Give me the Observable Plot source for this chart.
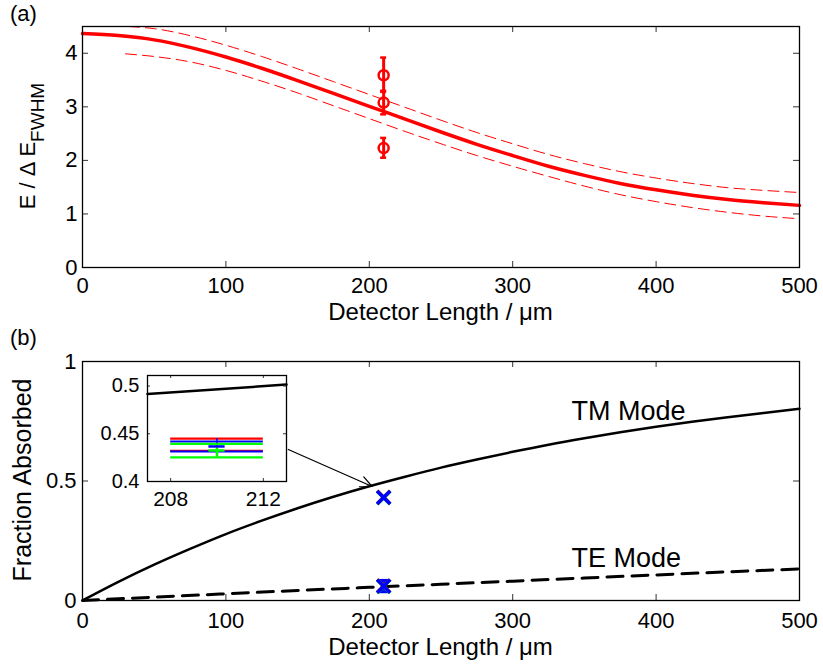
<!DOCTYPE html>
<html><head><meta charset="utf-8">
<script src="https://cdn.jsdelivr.net/npm/d3@7"></script>
<script src="https://cdn.jsdelivr.net/npm/@observablehq/plot@0.6"></script>
<style>
body{margin:0;background:#fff;}
#wrap{position:relative;width:823px;height:669px;}
#wrap svg{position:absolute;overflow:visible;}
</style></head><body><div id="wrap"></div>
<script>
const FONT = '"Liberation Sans", Arial, Helvetica, sans-serif';

// ---------- Panel (a) data ----------
const xFit = [0,25,50,75,100,125,150,175,200,225,250,275,300,325,350,375,400,425,450,475,500];
const resFit = [4.37,4.33,4.25,4.11,3.93,3.72,3.49,3.25,3.01,2.77,2.53,2.30,2.09,1.89,1.72,1.57,1.45,1.35,1.27,1.21,1.16];
const xUpper = [32,50,75,100,125,150,175,200,225,250,275,300,325,350,375,400,425,450,475,500];
const resUpper = [4.50,4.46,4.33,4.15,3.94,3.71,3.47,3.23,2.99,2.75,2.52,2.31,2.11,1.94,1.79,1.67,1.57,1.49,1.44,1.40];
const xLower = [30,50,75,100,125,150,175,200,225,250,275,300,325,350,375,400,425,450,475,500];
const resLower = [3.99,3.94,3.84,3.68,3.48,3.26,3.02,2.78,2.54,2.31,2.09,1.89,1.70,1.52,1.36,1.23,1.12,1.03,0.96,0.91];
const measX = [210,210,210];
const measRes = [3.59,3.08,2.23];
const measLo = [3.30,2.86,2.05];
const measHi = [3.92,3.28,2.42];
const xTicks = [0,100,200,300,400,500];
const xTickLabels = ["0","100","200","300","400","500"];
const resTicks = [0,1,2,3,4];
const resTickLabels = ["0","1","2","3","4"];

// ---------- Panel (b) data ----------
const xTM = [0,25,50,75,100,125,150,175,200,225,250,275,300,325,350,375,400,425,450,475,500];
const absTM = [0,0.078,0.150,0.216,0.278,0.334,0.386,0.434,0.478,0.518,0.556,0.590,0.622,0.652,0.679,0.704,0.727,0.748,0.767,0.785,0.802];
const xTE = [0,50,100,150,200,250,300,350,400,450,500];
const absTE = [0,0.014,0.028,0.042,0.055,0.068,0.081,0.094,0.107,0.120,0.132];
const sampleColors = ["#ff0000","#00e000","#0000ff"];
const sampleX = [210,210,210];
const sampleTM = [0.432,0.430,0.431];
const sampleTE = [0.061,0.059,0.060];
const sampleTELo = [0.038,0.037,0.037];
const sampleTEHi = [0.083,0.083,0.084];
const modeLabels = ["TM Mode","TE Mode"];
const modeX = [341,341];
const modeY = [0.754,0.139];
const arrowFrom = [143.5,0.632];
const arrowTo = [202,0.477];
const absTicks = [0,0.5,1];
const absTickLabels = ["0","0.5","1"];

// ---------- Inset data ----------
const insetX = [207,213];
const insetTM = [0.4915,0.5015];
const capColors = ["#ff0000","#0000ff","#00ff00","#ff0000","#0000ff","#00ff00"];
const capY = [0.4448,0.4419,0.4395,0.4322,0.4314,0.4252];
const capX1 = [208,208,208,208,208,208];
const capX2 = [212,212,212,212,212,212];
const barColors = ["#0000ff","#00ff00"];
const barX = [210,210];
const barLo = [0.4375,0.4252];
const barHi = [0.4448,0.4395];
const markColors = ["#0000ff","#00ff00"];
const markY = [0.4367,0.4325];
const markX1 = [209.65,209.65];
const markX2 = [210.35,210.35];
const insetXTicks = [208,212];
const insetXTickLabels = ["208","212"];
const insetYTicks = [0.4,0.45,0.5];
const insetYTickLabels = ["0.4","0.45","0.5"];

function boxTicks(xT, yT, xd, yd, len) {
  const s = {stroke: "#333", strokeWidth: 1};
  return [
    Plot.ruleX(xT, {x: d => d, y1: yd[0], y2: yd[0], insetTop: -len, ...s}),
    Plot.ruleX(xT, {x: d => d, y1: yd[1], y2: yd[1], insetBottom: -len, ...s}),
    Plot.ruleY(yT, {y: d => d, x1: xd[0], x2: xd[0], insetRight: -len, ...s}),
    Plot.ruleY(yT, {y: d => d, x1: xd[1], x2: xd[1], insetLeft: -len, ...s})
  ];
}
const baseStyle = {fontFamily: FONT, fontSize: "22px", background: "transparent", overflow: "visible", color: "black"};

// ---------- Plot (a) ----------
const plotA = Plot.plot({
  width: 823, height: 320,
  marginTop: 26, marginBottom: 53, marginLeft: 82, marginRight: 24,
  x: {domain: [0,500]}, y: {domain: [0,4.5]},
  style: baseStyle,
  marks: [
    Plot.line(resUpper, {x: xUpper, y: resUpper, stroke: "#ff0000", strokeWidth: 1, strokeDasharray: "11,6", curve: "monotone-x"}),
    Plot.line(resLower, {x: xLower, y: resLower, stroke: "#ff0000", strokeWidth: 1, strokeDasharray: "11,6", curve: "monotone-x"}),
    Plot.line(resFit, {x: xFit, y: resFit, stroke: "#ff0000", strokeWidth: 3.5, curve: "monotone-x"}),
    Plot.ruleX(measRes, {x: measX, y1: measLo, y2: measHi, stroke: "#ff0000", strokeWidth: 3}),
    Plot.ruleY(measLo, {y: measLo, x1: measX, x2: measX, insetLeft: -3, insetRight: -3, stroke: "#ff0000", strokeWidth: 2.5}),
    Plot.ruleY(measHi, {y: measHi, x1: measX, x2: measX, insetLeft: -3, insetRight: -3, stroke: "#ff0000", strokeWidth: 2.5}),
    Plot.dot(measRes, {x: measX, y: measRes, r: 5, stroke: "#ff0000", strokeWidth: 2.5, fill: "none"}),
    ...boxTicks(xTicks, resTicks, [0,500], [0,4.5], 6),
    Plot.axisX({ticks: xTicks, tickFormat: d => xTickLabels[xTicks.indexOf(d)], tickSize: 0, tickPadding: 10, label: null, fontSize: 22}),
    Plot.axisY({ticks: resTicks, tickFormat: d => resTickLabels[resTicks.indexOf(d)], tickSize: 0, tickPadding: 5, label: null, fontSize: 22}),
    Plot.frame({stroke: "black", strokeWidth: 1.3})
  ]
});

// ---------- Plot (b) ----------
const plotB = Plot.plot({
  width: 823, height: 349,
  marginTop: 41, marginBottom: 69, marginLeft: 82, marginRight: 24,
  x: {domain: [0,500]}, y: {domain: [0,1]},
  style: baseStyle,
  marks: [
    Plot.line(absTM, {x: xTM, y: absTM, stroke: "black", strokeWidth: 2.5, curve: "monotone-x"}),
    Plot.line(absTE, {x: xTE, y: absTE, stroke: "black", strokeWidth: 3, strokeDasharray: "16,9", curve: "monotone-x"}),
    Plot.arrow([0], {x1: arrowFrom[0], y1: arrowFrom[1], x2: arrowTo[0], y2: arrowTo[1], stroke: "black", strokeWidth: 1.2, headLength: 16, headAngle: 50}),
    Plot.ruleX(sampleTE, {x: sampleX, y1: sampleTELo, y2: sampleTEHi, stroke: sampleColors, strokeWidth: 3}),
    Plot.ruleY(sampleTELo, {y: sampleTELo, x1: sampleX, x2: sampleX, insetLeft: -6, insetRight: -6, stroke: sampleColors, strokeWidth: 3}),
    Plot.ruleY(sampleTEHi, {y: sampleTEHi, x1: sampleX, x2: sampleX, insetLeft: -6, insetRight: -6, stroke: sampleColors, strokeWidth: 3}),
    Plot.dot(sampleTE, {x: sampleX, y: sampleTE, symbol: "times", r: 6, stroke: sampleColors, strokeWidth: 3.5}),
    Plot.dot(sampleTM, {x: sampleX, y: sampleTM, symbol: "times", r: 6, stroke: sampleColors, strokeWidth: 3.5}),
    Plot.text(modeLabels, {x: modeX, y: modeY, text: d => d, textAnchor: "start", lineAnchor: "bottom", fontSize: 27, fill: "black"}),
    ...boxTicks(xTicks, absTicks, [0,500], [0,1], 6),
    Plot.axisX({ticks: xTicks, tickFormat: d => xTickLabels[xTicks.indexOf(d)], tickSize: 0, tickPadding: 12, label: null, fontSize: 22}),
    Plot.axisY({ticks: absTicks, tickFormat: d => absTickLabels[absTicks.indexOf(d)], tickSize: 0, tickPadding: 6, label: null, fontSize: 22}),
    Plot.frame({stroke: "black", strokeWidth: 1.3})
  ]
});

// ---------- Inset ----------
const plotI = Plot.plot({
  width: 199, height: 156,
  marginTop: 20, marginBottom: 30, marginLeft: 50, marginRight: 10,
  x: {domain: [207,213]}, y: {domain: [0.4,0.511]},
  style: {...baseStyle, fontSize: "20px"},
  marks: [
    Plot.frame({fill: "white", stroke: null}),
    Plot.line(insetTM, {x: insetX, y: insetTM, stroke: "black", strokeWidth: 2.5}),
    Plot.ruleY(capY, {y: capY, x1: capX1, x2: capX2, stroke: capColors, strokeWidth: 2.2}),
    Plot.ruleX(barLo, {x: barX, y1: barLo, y2: barHi, stroke: barColors, strokeWidth: [1.5, 2.5]}),
    Plot.ruleY(markY, {y: markY, x1: markX1, x2: markX2, stroke: markColors, strokeWidth: 2.5}),
    ...boxTicks(insetXTicks, insetYTicks, [207,213], [0.4,0.511], 3),
    Plot.axisX({ticks: insetXTicks, tickFormat: d => insetXTickLabels[insetXTicks.indexOf(d)], tickSize: 0, tickPadding: 10, label: null, fontSize: 21}),
    Plot.axisY({ticks: insetYTicks, tickFormat: d => insetYTickLabels[insetYTicks.indexOf(d)], tickSize: 0, tickPadding: 8, label: null, fontSize: 20}),
    Plot.frame({stroke: "black", strokeWidth: 1.3})
  ]
});

const wrap = document.getElementById("wrap");
function place(svg, left, top) {
  svg.style.left = left + "px";
  svg.style.top = top + "px";
  wrap.appendChild(svg);
}
place(plotA, 0, 0);
place(plotB, 0, 320);
place(plotI, 97, 355);

function label(svg, x, y, txt, size, opts = {}) {
  const t = d3.select(svg).append("text")
    .attr("transform", `translate(${x},${y})` + (opts.rotate ? ` rotate(${opts.rotate})` : ""))
    .attr("text-anchor", opts.anchor || "middle")
    .attr("font-family", FONT)
    .attr("font-size", size)
    .attr("fill", "black");
  return t.text(txt);
}
// Panel (a) titles
label(plotA, 10, 21, "(a)", 22, {anchor: "start"});
label(plotA, 440.5, 320, "Detector Length / μm", 24);
const yl = d3.select(plotA).append("text")
  .attr("transform", "translate(35,146) rotate(-90)")
  .attr("text-anchor", "middle")
  .attr("font-family", FONT)
  .attr("font-size", 22)
  .attr("fill", "black");
yl.append("tspan").text("E / Δ E");
yl.append("tspan").attr("dy", 9).attr("font-size", 19).text("FWHM");
// Panel (b) titles
label(plotB, 10, 25, "(b)", 22, {anchor: "start"});
label(plotB, 440.5, 335, "Detector Length / μm", 24);
label(plotB, 31, 160, "Fraction Absorbed", 25, {rotate: -90});
</script>
</body></html>
